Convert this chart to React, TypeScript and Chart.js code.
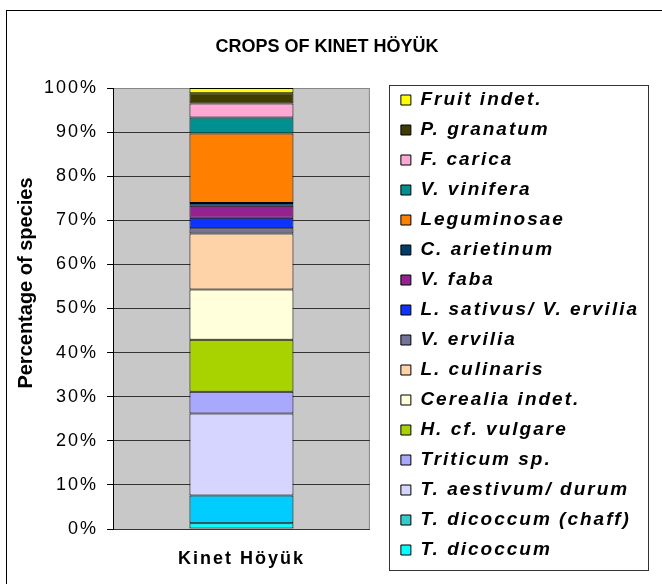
import React, { useEffect, useRef } from 'react';
import { Chart, registerables } from 'chart.js';

Chart.register(...registerables);

const TITLE = 'CROPS OF KINET HÖYÜK';
const Y_TITLE = 'Percentage of species';
const FONT = '"Liberation Sans", Arial, Helvetica, sans-serif';

const categories = ['Kinet Höyük'];

// stacked bottom -> top
const seriesNames = [
  'T. dicoccum',
  'T. dicoccum (chaff)',
  'T. aestivum/ durum',
  'Triticum sp.',
  'H. cf. vulgare',
  'Cerealia indet.',
  'L. culinaris',
  'V. ervilia',
  'L. sativus/ V. ervilia',
  'V. faba',
  'C. arietinum',
  'Leguminosae',
  'V. vinifera',
  'F. carica',
  'P. granatum',
  'Fruit indet.',
];

const seriesValues = [1.3, 6.3, 18.6, 4.9, 11.8, 11.4, 12.7, 1.2, 2.4, 2.7, 0.6, 15.8, 3.6, 3.2, 2.3, 1.2];

const seriesColors = [
  '#00FFFF', '#00CCFF', '#D5D5FF', '#A8A8FF', '#A9D300', '#FFFFDC', '#FFD3A8', '#737399',
  '#0F33FF', '#942391', '#003D6B', '#FF7F00', '#009090', '#FFA8D3', '#3F3C00', '#FFFF00',
];

const legendColors = [
  '#00FFFF', '#33CCCC', '#D5D5FF', '#A8A8FF', '#A9D300', '#FFFFDC', '#FFD3A8', '#737399',
  '#0F33FF', '#942391', '#003D6B', '#FF7F00', '#009090', '#FFA8D3', '#3F3C00', '#FFFF00',
];

const yMin = 0;
const yMax = 100;
const yStep = 10;

const decorPlugin = {
  id: 'decor',
  beforeUpdate(chart: any) {
    chart.ctx.letterSpacing = '2px';
  },
  beforeDraw(chart: any) {
    const { ctx, chartArea: a } = chart;
    ctx.letterSpacing = '2px';
    ctx.save();
    ctx.fillStyle = '#FFFFFF';
    ctx.fillRect(0, 0, chart.width, chart.height);
    ctx.strokeStyle = '#000000';
    ctx.lineWidth = 1;
    ctx.strokeRect(6.5, 10.5, chart.width + 50, chart.height + 50);
    ctx.fillStyle = '#C8C8C8';
    ctx.fillRect(a.left, a.top, a.right - a.left, a.bottom - a.top);
    ctx.strokeStyle = '#888888';
    ctx.beginPath();
    ctx.moveTo(a.right - 0.5, a.top);
    ctx.lineTo(a.right - 0.5, a.bottom);
    ctx.stroke();
    ctx.restore();
  },
  afterDraw(chart: any) {
    const { ctx } = chart;
    ctx.save();
    ctx.letterSpacing = '0px';
    // legend frame
    const lg = chart.legend;
    if (lg && lg.legendHitBoxes && lg.legendHitBoxes.length) {
      const hb = lg.legendHitBoxes;
      const first = hb[0];
      const last = hb[hb.length - 1];
      const left = Math.round(first.left - 12) + 0.5;
      const top = Math.round(first.top - 6) + 0.5;
      const right = Math.round(lg.right) - 0.5;
      const bottom = Math.round(last.top + last.height + 10) + 0.5;
      ctx.strokeStyle = '#333333';
      ctx.lineWidth = 1;
      ctx.strokeRect(left, top, right - left, bottom - top);
    }
    ctx.fillStyle = '#000000';
    ctx.textAlign = 'center';
    ctx.textBaseline = 'middle';
    // title
    ctx.font = 'bold 18px ' + FONT;
    ctx.fillText(TITLE, 327, 47);
    // y axis title
    ctx.translate(26, 283);
    ctx.rotate(-Math.PI / 2);
    ctx.font = 'bold 20px ' + FONT;
    ctx.fillText(Y_TITLE, 0, 0);
    ctx.restore();
  },
};

export default function App() {
  const ref = useRef<HTMLCanvasElement | null>(null);

  useEffect(() => {
    if (!ref.current) return;
    const datasets = seriesNames.map((name, i) => ({
      label: name,
      data: [seriesValues[i]],
      backgroundColor: seriesColors[i],
      borderColor: '#000000',
      borderWidth: 1,
      borderSkipped: false,
      barPercentage: 0.405,
      categoryPercentage: 1,
    }));

    const chart = new Chart(ref.current, {
      type: 'bar',
      data: { labels: categories, datasets },
      plugins: [decorPlugin],
      options: {
        responsive: false,
        animation: false,
        devicePixelRatio: 1,
        layout: { padding: { left: 35, top: 78, right: 13, bottom: 12 } },
        plugins: {
          title: { display: false },
          tooltip: { enabled: false },
          legend: {
            position: 'right',
            reverse: true,
            maxWidth: 400,
            labels: {
              boxWidth: 10,
              boxHeight: 10,
              padding: 11,
              color: '#000000',
              font: { family: FONT, size: 19, weight: 'bold', style: 'italic' },
              generateLabels: (c: any) => {
                const items = (Chart.defaults as any).plugins.legend.labels.generateLabels(c);
                return items.map((it: any) => ({
                  ...it,
                  fillStyle: legendColors[it.datasetIndex],
                  strokeStyle: '#000000',
                  lineWidth: 1,
                }));
              },
            },
          },
        },
        scales: {
          x: {
            stacked: true,
            grid: { display: false },
            border: { display: false },
            ticks: { color: '#000000', padding: 11, font: { family: FONT, size: 18, weight: 'bold' } },
            afterFit: (s: any) => { s.height = 43; },
          },
          xTop: {
            type: 'linear',
            position: 'top',
            display: true,
            grid: { display: false },
            ticks: { display: false },
            border: { display: false },
            afterFit: (s: any) => { s.height = 10; },
          },
          y: {
            stacked: true,
            min: yMin,
            max: yMax,
            ticks: {
              stepSize: yStep,
              color: '#000000',
              padding: 9,
              font: { family: FONT, size: 18 },
              callback: (v: any) => v + '%',
            },
            grid: {
              color: (c: any) => (c.tick && c.tick.value === yMax ? '#888888' : '#333333'),
              lineWidth: 1,
              tickLength: 6,
              tickColor: '#000000',
              drawTicks: true,
            },
            border: { display: true, color: '#000000', width: 1 },
          },
          yPad: {
            position: 'right',
            display: true,
            grid: { display: false },
            ticks: { display: false },
            border: { display: false },
            afterFit: (s: any) => { s.width = 20; },
          },
        },
      } as any,
    });
    return () => chart.destroy();
  }, []);

  return (
    <div style={{ position: 'absolute', left: 0, top: 0, width: 662, height: 584 }}>
      <canvas ref={ref} width={662} height={584} style={{ display: 'block' }} />
    </div>
  );
}
